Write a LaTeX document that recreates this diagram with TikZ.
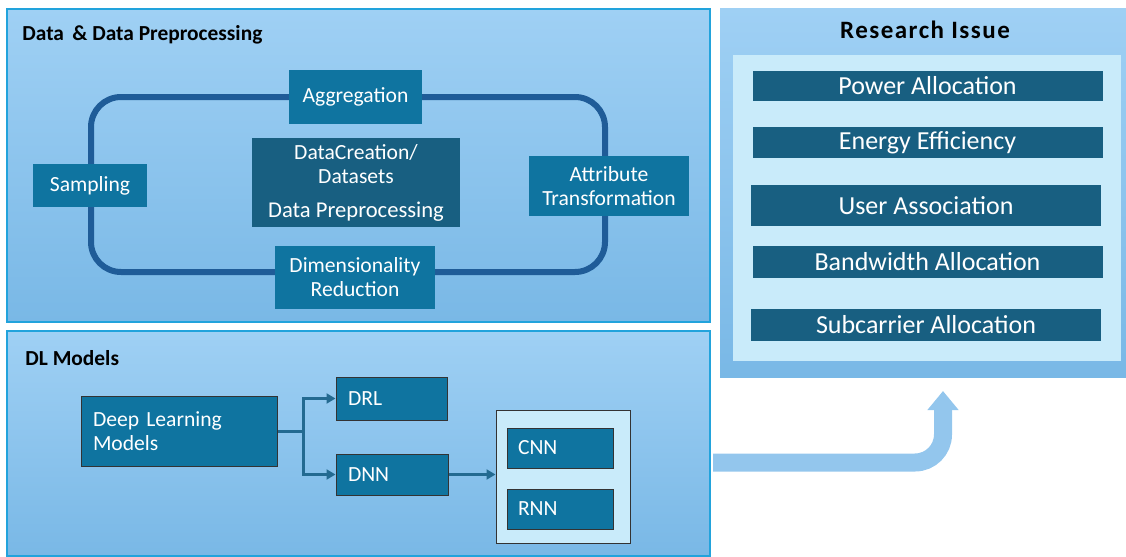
\documentclass[tikz,border=0pt]{standalone}
\usepackage{fontspec}
\setmainfont{Carlito}
\newfontfamily\spacedfont[LetterSpace=6]{Carlito}
\usepackage{xcolor}
\usepackage{tikz}
\usetikzlibrary{calc, arrows.meta, positioning}
\definecolor{panelTop}{HTML}{9FD0F4}
\definecolor{panelBot}{HTML}{79B8E6}
\definecolor{panelLine}{HTML}{22A3DC}
\definecolor{boxTeal}{HTML}{0F74A0}
\definecolor{boxDark}{HTML}{185F81}
\definecolor{loopBlue}{HTML}{1F5C98}
\definecolor{paleBlue}{HTML}{C9EBFA}
\definecolor{linkBlue}{HTML}{236A91}
\definecolor{arrowBlue}{HTML}{93C6ED}
\tikzset{
    panelnode/.style = {rectangle, draw=panelLine, line width=0.8pt, top color=panelTop, bottom color=panelBot,
      inner sep=0pt},
    titlenode/.style = {draw=none, fill=none, inner sep=0pt, anchor=west, font=\fontsize{10.7}{12}\selectfont\bfseries},
    tealnode/.style = {rectangle, fill=boxTeal, text=white, inner sep=2pt, align=center,
      font=\fontsize{10.8}{12}\selectfont},
    leftnode/.style = {rectangle, fill=boxTeal, draw=black!80, line width=0.5pt, text=white, align=left,
      inner xsep=6pt, font=\fontsize{10.8}{12}\selectfont},
    issuenode/.style = {rectangle, fill=boxDark, text=white, inner sep=0pt, minimum width=175pt,
      font=\fontsize{13}{14}\selectfont},
    connect/.style = {linkBlue, line width=1.5pt, -{Triangle[length=4.5pt,width=5pt]}}
}
\newcommand{\bigtext}[1]{{\fontsize{11.3}{12}\selectfont #1}}

\begin{document}
\begin{tikzpicture}[x=0.5pt, y=-0.5pt]
    \useasboundingbox (0,0) rectangle (1126,557);
    % panels
    \node [panelnode, name=DataPanel, minimum width=351.5pt, minimum height=156.5pt] at (358.5,165.5) {};
    \node [panelnode, name=DLPanel, minimum width=351.5pt, minimum height=112.5pt] at (358.5,443.5) {};
    \node [rectangle, top color=panelTop, bottom color=panelBot, inner sep=0pt, name=IssuePanel,
      minimum width=203pt, minimum height=184.5pt] at (923,192.5) {};
    \node [rectangle, fill=paleBlue, inner sep=0pt, name=IssueInner,
      minimum width=194pt, minimum height=153pt] at (927,208) {};

    % titles
    \node [titlenode, name=DataTitle] at (22,35) {Data \,\& Data Preprocessing};
    \node [titlenode, name=DLTitle] at (25,358) {DL Models};
    \node [draw=none, inner sep=0pt, name=IssueTitle, font=\fontsize{12.5}{14}\selectfont\bfseries\spacedfont]
      at (925,30) {Research Issue};

    % preprocessing loop
    \draw [loopBlue, line width=3pt, rounded corners=15pt] (91,97) rectangle (605,272);
    \node [tealnode, name=Aggregation, minimum width=66.5pt, minimum height=27pt] at (355.5,97) {Aggregation};
    \node [tealnode, name=DataCreation, fill=boxDark, minimum width=104pt, minimum height=44.5pt] at (356,182.5)
      {DataCreation/\\Datasets\\[5pt]\bigtext{Data Preprocessing}};
    \node [tealnode, name=Sampling, minimum width=57pt, minimum height=21.5pt] at (90,185.5) {Sampling};
    \node [tealnode, name=Attribute, minimum width=80pt, minimum height=30pt] at (609,186) {Attribute\\Transformation};
    \node [tealnode, name=Reduction, minimum width=80pt, minimum height=31.5pt] at (355,277.5) {Dimensionality\\Reduction};

    % DL models
    \node [leftnode, name=DLM, text width=86pt, minimum height=35pt] at (179,431) {Deep Learning\\Models};
    \node [leftnode, name=DRL, text width=43.5pt, minimum height=21.5pt] at (391.5,398.5) {DRL};
    \node [leftnode, name=DNN, text width=44pt, minimum height=20.5pt] at (392,474.5) {DNN};
    \node [rectangle, fill=paleBlue, draw=black!80, line width=0.5pt, name=Family,
      minimum width=67pt, minimum height=66.5pt] at (563,476.5) {};
    \node [leftnode, name=CNN, text width=42pt, inner xsep=5.5pt, minimum height=20pt] at (560,448) {CNN};
    \node [leftnode, name=RNN, text width=42pt, inner xsep=5.5pt, minimum height=20pt] at (560,509) {RNN};
    \coordinate (split) at (303,431);
    \draw [linkBlue, line width=1.5pt] (DLM.east) -- (split);
    \draw [connect] (split) |- (DRL.west);
    \draw [connect] (split) |- (DNN.west);
    \draw [connect] (DNN.east) -- (DNN.east -| Family.west);

    % research issues
    \node [issuenode, name=Power, minimum height=15pt] at (927.5,86) {Power Allocation};
    \node [issuenode, name=Energy, minimum height=15.5pt] at (927.5,142.5) {Energy Efficiency};
    \node [issuenode, name=User, minimum height=20.5pt] at (926,205.5) {User Association};
    \node [issuenode, name=Bandwidth, minimum height=16pt] at (927.5,262) {Bandwidth Allocation};
    \node [issuenode, name=Subcarrier, minimum height=16pt] at (926,325) {Subcarrier Allocation};

    % big arrow
    \coordinate (arrowstart) at (713,462.5);
    \coordinate (arrowend) at (943,391);
    \draw [arrowBlue, line width=9pt, rounded corners=14pt, -{Triangle[length=9.5pt,width=15pt]}]
      (arrowstart) -| (arrowend);
\end{tikzpicture}
\end{document}
